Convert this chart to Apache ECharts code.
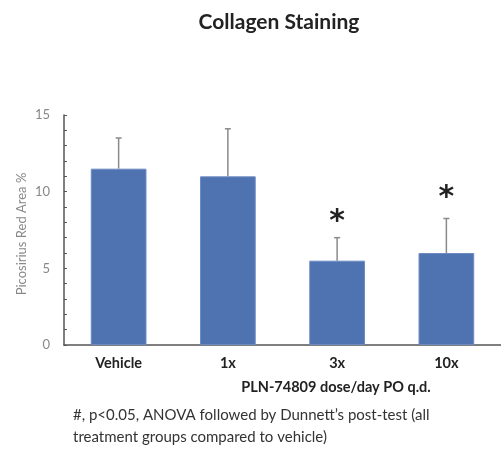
<!DOCTYPE html>
<html><head><meta charset="utf-8">
<script src="https://cdn.jsdelivr.net/npm/echarts@6/dist/echarts.min.js"></script>
<style>html,body{margin:0;padding:0;background:#fff}#c{width:501px;height:454px}</style>
</head><body><div id="c"></div>
<script>
const categories = ['Vehicle', '1x', '3x', '10x'];
const means = [11.5, 11.0, 5.5, 6.0];
const errUpper = [13.5, 14.1, 7.0, 8.25];
const sigMarks = ['', '', '*', '*'];
const sigY = [null, null, 8.0, 9.6];
const yTicks = [0, 5, 10, 15];

const chart = echarts.init(document.getElementById('c'));
const FONT = 'Lato';
chart.setOption({
  animation: false,
  backgroundColor: '#fff',
  textStyle: { fontFamily: FONT },
  grid: { left: 64, top: 115, width: 448, height: 230 },
  graphic: [
    { type: 'text', x: 279, y: 22, style: { text: 'Collagen Staining', font: 'bold 21px ' + FONT, fill: '#222', align: 'center', verticalAlign: 'middle' } },
    { type: 'text', x: 336, y: 387, style: { text: 'PLN-74809 dose/day PO q.d.', font: 'bold 14.5px ' + FONT, fill: '#222', align: 'center', verticalAlign: 'middle' } },
    { type: 'text', x: 73, y: 404, style: { text: '#, p<0.05, ANOVA followed by Dunnett\u2019s post-test (all\ntreatment groups compared to vehicle)', font: '15px ' + FONT, fill: '#333', lineHeight: 22 } },
    { type: 'text', x: 22, y: 234, rotation: Math.PI / 2, style: { text: 'Picosirius Red Area %', font: '13px ' + FONT, fill: '#888', align: 'center', verticalAlign: 'middle' } }
  ],
  xAxis: {
    type: 'category', data: categories,
    axisLine: { lineStyle: { color: '#555', width: 1.5 } },
    axisTick: { show: false },
    axisLabel: { fontWeight: 'bold', fontSize: 14.5, color: '#222', margin: 11, fontFamily: FONT }
  },
  yAxis: {
    type: 'value', min: yTicks[0], max: yTicks[yTicks.length - 1], interval: 5,
    splitLine: { show: false },
    axisLine: { show: true, lineStyle: { color: '#555', width: 1.5 } },
    axisTick: { show: true, inside: true, length: 3, lineStyle: { color: '#555' } },
    minorTick: { show: true, splitNumber: 5, length: 3, lineStyle: { color: '#555' } },
    axisLabel: { fontSize: 13, color: '#888', margin: 14, fontFamily: FONT }
  },
  series: [
    {
      type: 'bar', data: means, barWidth: '51%',
      itemStyle: { color: '#4f72b0', borderColor: '#6d8cc4', borderWidth: 1 }
    },
    {
      type: 'custom',
      data: categories.map((c, i) => [i, means[i], errUpper[i]]),
      renderItem: function (params, api) {
        const x = api.coord([api.value(0), api.value(1)]);
        const top = api.coord([api.value(0), api.value(2)]);
        return {
          type: 'group', children: [
            { type: 'line', shape: { x1: x[0], y1: x[1], x2: top[0], y2: top[1] }, style: { stroke: '#8a8a8a', lineWidth: 1.5 } },
            { type: 'line', shape: { x1: top[0] - 3, y1: top[1], x2: top[0] + 3, y2: top[1] }, style: { stroke: '#8a8a8a', lineWidth: 1.5 } }
          ]
        };
      },
      z: 3
    },
    {
      type: 'custom',
      data: categories.map((c, i) => [i, sigY[i] == null ? 0 : sigY[i], sigMarks[i]]),
      renderItem: function (params, api) {
        const i = params.dataIndex;
        if (!sigMarks[i]) return null;
        const p = api.coord([api.value(0), sigY[i]]);
        return { type: 'text', x: p[0], y: p[1], style: { text: sigMarks[i], font: 'bold 30px "DejaVu Sans"', fill: '#222', align: 'center', verticalAlign: 'middle' } };
      },
      z: 4
    }
  ]
});
</script></body></html>
